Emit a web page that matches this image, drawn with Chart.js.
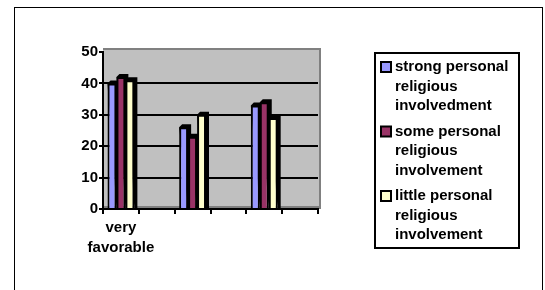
<!DOCTYPE html>
<html>
<head>
<meta charset="utf-8">
<script src="https://cdn.jsdelivr.net/npm/chart.js@4/dist/chart.umd.min.js"></script>
<style>
  html, body { margin: 0; padding: 0; background: #fff; overflow: hidden; }
  #frame { position: absolute; left: 14px; top: 7px; width: 527px; height: 400px; border: 1px solid #000; }
  #wrap { position: absolute; left: 0; top: 0; width: 545px; height: 290px; }
</style>
</head>
<body>
<div id="frame"></div>
<div id="wrap"><canvas id="chart" width="545" height="290"></canvas></div>
<script>
// data (empty categories 2, 4, 6)
const categories = [["very", "favorable"], "", "", "", "", ""];
const seriesNames = [
  ["strong personal", "religious", "involvedment"],
  ["some personal", "religious", "involvement"],
  ["little personal", "religious", "involvement"],
];
const strongValues = [40, null, 26, null, 33, null];
const someValues = [42, null, 23, null, 34, null];
const littleValues = [41, null, 30, null, 29, null];
const seriesColors = ["#9999ff", "#993366", "#ffffcc"];
const yTicks = [0, 10, 20, 30, 40, 50];

const FONT = "'Liberation Sans', Arial, sans-serif";
const DEPTH = 3;

// grey back wall + floor, like the old excel plot area
const wallPlugin = {
  id: "wall",
  beforeDraw(chart) {
    const { ctx, chartArea: a } = chart;
    ctx.save();
    ctx.fillStyle = "#c0c0c0";
    ctx.fillRect(a.left, a.top - DEPTH, a.right - a.left + DEPTH, a.bottom - a.top + DEPTH);
    ctx.fillStyle = "#808080";
    ctx.fillRect(a.left, a.bottom - DEPTH, a.right - a.left + DEPTH, DEPTH);
    ctx.strokeStyle = "#808080";
    ctx.lineWidth = 2;
    ctx.beginPath();
    ctx.moveTo(a.left, a.top - DEPTH);
    ctx.lineTo(a.right + DEPTH - 1, a.top - DEPTH);
    ctx.lineTo(a.right + DEPTH - 1, a.bottom);
    ctx.stroke();
    ctx.restore();
  },
  // black side/top of each column
  beforeDatasetsDraw(chart) {
    const ctx = chart.ctx;
    ctx.save();
    ctx.fillStyle = "#000";
    chart.data.datasets.forEach((ds, i) => {
      chart.getDatasetMeta(i).data.forEach((bar, k) => {
        if (ds.data[k] == null) return;
        const { x, y, base, width } = bar.getProps(["x", "y", "base", "width"], true);
        const l = x - width / 2, r = x + width / 2;
        ctx.beginPath();
        ctx.moveTo(l, y);
        ctx.lineTo(l + DEPTH, y - DEPTH);
        ctx.lineTo(r + DEPTH, y - DEPTH);
        ctx.lineTo(r + DEPTH, base);
        ctx.lineTo(r, base);
        ctx.closePath();
        ctx.fill();
      });
    });
    ctx.restore();
  },
};

// boxed legend on the right with wrapped labels
const legendPlugin = {
  id: "boxLegend",
  afterDraw(chart) {
    const ctx = chart.ctx;
    const box = { x: 375, y: 53, w: 144, h: 195 };
    ctx.save();
    ctx.strokeStyle = "#000";
    ctx.lineWidth = 2;
    ctx.strokeRect(box.x, box.y, box.w, box.h);
    ctx.font = "bold 15px " + FONT;
    ctx.textBaseline = "middle";
    ctx.fillStyle = "#000";
    let y = 67;
    chart.data.datasets.forEach((ds, i) => {
      ctx.fillStyle = ds.backgroundColor;
      ctx.fillRect(381, y - 5, 10, 10);
      ctx.lineWidth = 2;
      ctx.strokeRect(381, y - 5, 10, 10);
      ctx.fillStyle = "#000";
      seriesNames[i].forEach((line, j) => {
        ctx.fillText(line, 395, y + j * 19.5);
      });
      y += 64.5;
    });
    ctx.restore();
  },
};

const seriesValues = [strongValues, someValues, littleValues];

new Chart(document.getElementById("chart"), {
  type: "bar",
  data: {
    labels: categories,
    datasets: seriesValues.map((values, i) => ({
      label: seriesNames[i].join(" "),
      data: values,
      backgroundColor: seriesColors[i],
      borderColor: "#000",
      borderWidth: 2,
      categoryPercentage: 0.75,
      barPercentage: 1,
    })),
  },
  plugins: [wallPlugin, legendPlugin],
  options: {
    responsive: false,
    animation: false,
    layout: { padding: { left: 0, right: 227, top: 52, bottom: 0 } },
    plugins: {
      legend: { display: false },
      tooltip: { enabled: false },
    },
    scales: {
      x: {
        grid: { drawOnChartArea: false, drawTicks: true, tickLength: 5, tickColor: "#000", lineWidth: 2 },
        border: { display: true, color: "#000", width: 2 },
        ticks: {
          color: "#000",
          font: { family: FONT, size: 15, weight: "bold", lineHeight: 1.33 },
          padding: 4,
          maxRotation: 0,
          autoSkip: false,
        },
        afterFit(scale) { scale.height = 81; },
      },
      y: {
        min: 0,
        max: 50,
        afterBuildTicks(scale) { scale.ticks = yTicks.map((v) => ({ value: v })); },
        grid: {
          color: (c) => (c.tick && c.tick.value === 50 ? "rgba(0,0,0,0)" : "#000"),
          tickColor: "#000",
          tickLength: 4,
          lineWidth: 2,
        },
        border: { display: true, color: "#000", width: 2 },
        ticks: {
          color: "#000",
          font: { family: FONT, size: 15, weight: "bold" },
          padding: 1,
        },
        afterFit(scale) { scale.width = 103; },
      },
    },
  },
});
</script>
</body>
</html>
